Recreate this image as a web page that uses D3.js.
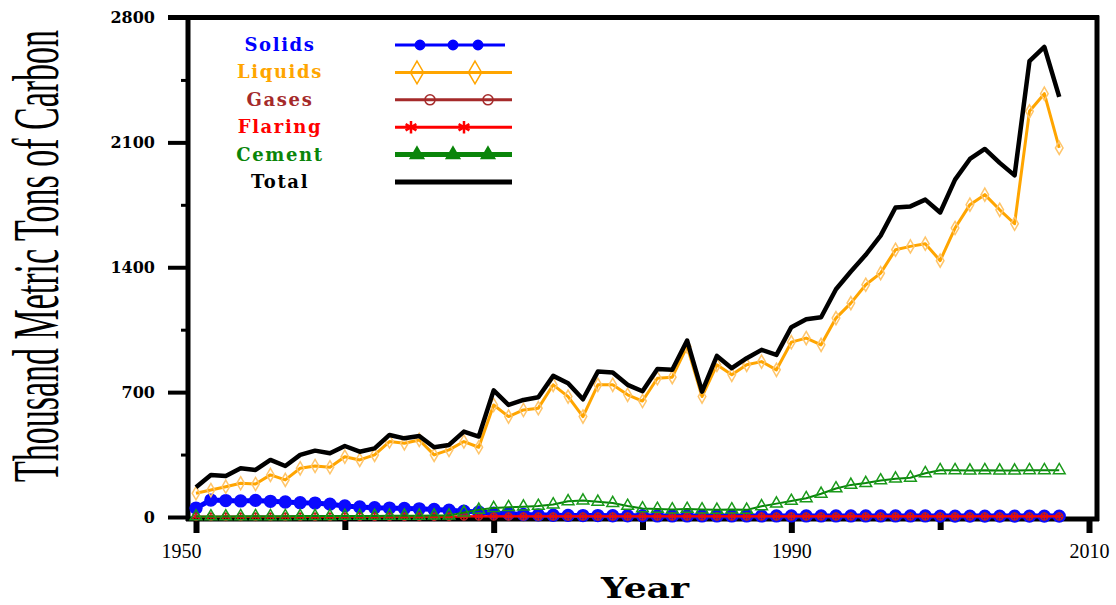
<!DOCTYPE html>
<html>
<head>
<meta charset="utf-8">
<script src="https://cdn.jsdelivr.net/npm/d3@7"></script>
<style>
  body { margin: 0; background: #fff; }
</style>
</head>
<body>
<svg id="chart" width="1116" height="605"></svg>
<script>
// yearly values, thousand metric tons of carbon, 1950..2008
const years = d3.range(1950, 2009);

const solids = [50,95,92,90,93,88,84,80,78,72, 62,56,52,50,48,46,42,38,32,28,
  22,18,14,12,10,9,8,8,7,7, 7,6,6,6,6,6,6,6,6,6,
  6,6,6,6,6,6,6,6,6,6, 5,5,5,5,5,5,5,5,5];
const liquids = [133,151,170,189,185,236,208,273,286,279, 338,320,348,423,413,432,348,376,423,391,
  628,563,600,610,741,675,563,741,741,685, 650,778,784,956,675,853,797,853,871,825,
  980,1003,965,1115,1199,1302,1367,1498,1517,1532, 1437,1620,1751,1807,1722,1644,2274,2373,2069];
const gases = [1,1,1,1,1,1,1,1,1,1, 1,1,1,1,1,1,1,1,3,3,
  3,3,3,3,3,3,3,3,3,3, 3,3,3,3,3,3,3,3,3,3,
  3,3,3,3,3,3,3,3,3,3, 3,3,3,3,3,3,3,3,3];
const flaring = [2,2,2,2,2,2,2,2,2,2, 2,2,2,2,2,2,2,2,4,4,
  4,4,4,4,4,4,4,4,4,4, 4,4,4,4,4,4,4,4,4,4,
  4,4,4,4,4,4,4,4,4,4, 4,4,4,4,4,4,4,4,4];
const cement = [3,3,3,4,4,4,4,5,5,5, 6,6,6,7,7,7,8,8,25,40,
  50,55,58,62,70,88,92,85,78,62, 48,45,42,45,42,40,42,40,60,75,
  90,105,130,160,180,190,205,215,220,245, 262,262,260,262,260,260,262,262,262];
const total = [167,236,230,273,264,320,286,348,372,357, 398,366,385,460,441,454,391,404,479,451,
  710,628,656,671,791,750,660,815,810,741, 705,829,825,989,703,903,834,890,937,909,
  1064,1109,1120,1277,1376,1470,1577,1735,1741,1779, 1707,1891,2007,2063,1985,1915,2555,2635,2355];

const yTicks = [0, 700, 1400, 2100, 2800];
const yMinor = [350, 1050, 1750, 2450];
const xTicks = [1950, 1970, 1990, 2010];
const xMinor = [1960, 1980, 2000];

const series = [
  { name: "Solids",  values: solids,  color: "#0000ff", lw: 5, sym: d3.symbolCircle,   size: 110, filled: true,  mcolor: "#0a0aff" },
  { name: "Liquids", values: liquids, color: "#ffa500", lw: 3, sym: d3.symbolDiamond,  size: 50,  filled: false, mcolor: "#ffc56a" },
  { name: "Gases",   values: gases,   color: "#a52a2a", lw: 2, sym: d3.symbolCircle,   size: 40,  filled: false, mcolor: "#a52a2a" },
  { name: "Flaring", values: flaring, color: "#ff0000", lw: 2, sym: d3.symbolAsterisk, size: 45,  filled: false, mcolor: "#e01010" },
  { name: "Cement",  values: cement,  color: "#0a850a", lw: 2, sym: d3.symbolTriangle, size: 60,  filled: false, mcolor: "#1a9a1a" },
  { name: "Total",   values: total,   color: "#000000", lw: 4.5, sym: null }
];

const svg = d3.select("#chart");

const x = d3.scaleLinear().domain([1950, 2010]).range([196, 1089]);
const y = d3.scaleLinear().domain([0, 2800]).range([517, 17.5]);

const frameL = 188, frameR = 1097, frameT = 17.5, frameB = 519;

// frame
svg.append("g")
  .attr("stroke", "#000")
  .attr("stroke-width", 5)
  .selectAll("line")
  .data([
    [168, frameT, frameR + 2, frameT],
    [frameL, frameT - 2, frameL, frameB + 2],
    [frameR, frameT - 2, frameR, frameB + 2],
    [frameL - 2, frameB, frameR + 2, frameB]
  ])
  .join("line")
  .attr("x1", d => d[0]).attr("y1", d => d[1])
  .attr("x2", d => d[2]).attr("y2", d => d[3]);

// y axis
const yAxis = svg.append("g")
  .attr("transform", `translate(${frameL - 2},0)`)
  .call(d3.axisLeft(y).tickValues(yTicks).tickSize(18).tickPadding(13).tickFormat(d3.format("d")));
yAxis.select(".domain").remove();
yAxis.selectAll("line").attr("stroke-width", 4);
yAxis.selectAll("text")
  .attr("font-family", "DejaVu Serif")
  .attr("font-weight", "bold")
  .attr("font-size", 16)
  .attr("fill", "#000");

const yAxisMinor = svg.append("g")
  .attr("transform", `translate(${frameL - 2},0)`)
  .call(d3.axisLeft(y).tickValues(yMinor).tickSize(5).tickFormat(""));
yAxisMinor.select(".domain").remove();
yAxisMinor.selectAll("line").attr("stroke-width", 3);

// x axis
const xAxis = svg.append("g")
  .attr("transform", `translate(0,${frameB})`)
  .call(d3.axisBottom(x).tickValues(xTicks).tickSize(14).tickPadding(11).tickFormat(d3.format("d")));
xAxis.select(".domain").remove();
xAxis.selectAll("line").attr("stroke-width", 6);
xAxis.selectAll("text")
  .attr("font-family", "Liberation Serif")
  .attr("font-size", 20)
  .attr("fill", "#000")
  .attr("dx", d => d === 1950 ? -15 : 0);   // first label sits left of its tick

const xAxisMinor = svg.append("g")
  .attr("transform", `translate(0,${frameB})`)
  .call(d3.axisBottom(x).tickValues(xMinor).tickSize(11).tickFormat(""));
xAxisMinor.select(".domain").remove();
xAxisMinor.selectAll("line").attr("stroke-width", 6);

// axis titles
svg.append("text")
  .attr("transform", "translate(58,256) rotate(-90) scale(1,1.9)")
  .attr("text-anchor", "middle")
  .attr("font-family", "Liberation Serif")
  .attr("font-size", 34)
  .attr("fill", "#000")
  .text("Thousand Metric Tons of Carbon");

svg.append("text")
  .attr("x", 645)
  .attr("y", 598)
  .attr("text-anchor", "middle")
  .attr("font-family", "DejaVu Serif")
  .attr("font-weight", "bold")
  .attr("font-size", 27)
  .attr("textLength", 88)
  .attr("lengthAdjust", "spacingAndGlyphs")
  .attr("fill", "#000")
  .text("Year");

// data
const line = d3.line()
  .x((d, i) => x(years[i]))
  .y(d => y(d));

const plot = svg.append("g");

series.forEach(s => {
  plot.append("path")
    .datum(s.values)
    .attr("fill", "none")
    .attr("stroke", s.color)
    .attr("stroke-width", s.lw)
    .attr("stroke-linejoin", "round")
    .attr("d", line);

  if (s.sym) {
    plot.append("g")
      .selectAll("path")
      .data(s.values)
      .join("path")
      .attr("transform", (d, i) => `translate(${x(years[i])},${y(d)})`)
      .attr("d", d3.symbol(s.sym, s.size))
      .attr("fill", s.filled ? s.mcolor : "none")
      .attr("stroke", s.mcolor)
      .attr("stroke-width", 1.5);
  }
});

// legend
const legendMarks = {
  Solids: [420, 453, 478],
  Liquids: [417, 475],
  Gases: [430, 488],
  Flaring: [411, 464],
  Cement: [417, 453, 488],
  Total: []
};
const legendSize = { Solids: 70, Liquids: 150, Gases: 80, Flaring: 110, Cement: 80, Total: 0 };

const legend = svg.append("g");
series.forEach((s, i) => {
  const cy = 45 + i * 27.4;
  legend.append("text")
    .attr("x", 280)
    .attr("y", cy + 6)
    .attr("text-anchor", "middle")
    .attr("font-family", "DejaVu Serif")
    .attr("font-weight", "bold")
    .attr("font-size", 18)
    .attr("letter-spacing", 1.6)
    .attr("fill", s.color)
    .text(s.name);

  legend.append("line")
    .attr("x1", 395)
    .attr("x2", s.name === "Solids" ? 505 : 512)
    .attr("y1", cy).attr("y2", cy)
    .attr("stroke", s.color)
    .attr("stroke-width", s.name === "Cement" || s.name === "Total" ? 5 : 3);

  legend.append("g")
    .selectAll("path")
    .data(legendMarks[s.name])
    .join("path")
    .attr("transform", d => `translate(${d},${cy})`)
    .attr("d", d3.symbol(s.sym || d3.symbolCircle, legendSize[s.name]))
    .attr("fill", s.filled || s.name === "Cement" ? s.color : "none")
    .attr("stroke", s.color)
    .attr("stroke-width", s.name === "Flaring" ? 2.5 : 1.5);
});
</script>
</body>
</html>
